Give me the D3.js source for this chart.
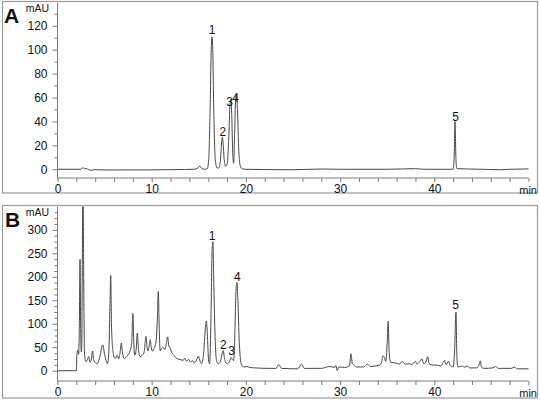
<!DOCTYPE html>
<html>
<head>
<meta charset="utf-8">
<script src="https://cdn.jsdelivr.net/npm/d3@7"></script>
<style>
  body { margin: 0; background: #fff; }
  svg text { font-family: "Liberation Sans", Arial, sans-serif; fill: #111; }
</style>
</head>
<body>
<div id="chart"></div>
<script>
// x axis (minutes)
var xTicks = [0, 10, 20, 30, 40];
var xMinor = [2, 4, 6, 8, 12, 14, 16, 18, 22, 24, 26, 28, 32, 34, 36, 38, 42, 44, 46, 48, 50];

// panel A: standards
var yTicksA = [0, 20, 40, 60, 80, 100, 120];
var yMinorA = [10, 30, 50, 70, 90, 110, 130];
var traceA = [
  [0, 0], [2.5, 0], [2.6, 0.8], [2.75, 1.2], [2.9, 0.3], [3.1, 0.6], [3.3, -0.3], [3.6, -0.8], [3.9, -0.3],
  [4.5, -0.5], [6, -0.6], [8, -0.5], [10, -0.5], [12, -0.3], [13.5, -0.2], [14.5, 0], [14.9, 1], [15.1, 2.8],
  [15.3, 0.8], [15.6, 0], [15.9, 0.5], [16.05, 8], [16.2, 50], [16.32, 100], [16.4, 110.8], [16.48, 100],
  [16.6, 45], [16.75, 8], [16.95, 1], [17.15, 1.5], [17.3, 8], [17.42, 22], [17.5, 26.7], [17.58, 22],
  [17.7, 8], [17.85, 2.5], [18.0, 4], [18.15, 20], [18.3, 52], [18.4, 58.5], [18.5, 45], [18.6, 14],
  [18.7, 5], [18.8, 30], [18.92, 60], [19.0, 62.9], [19.1, 50], [19.25, 15], [19.4, 3], [19.6, 0.5],
  [20, 0], [25, -0.4], [28, 0.2], [30, 0], [35, 0], [38, 0.5], [39, 0], [42, 0], [42.1, 8], [42.2, 39.8],
  [42.3, 8], [42.4, 0.5], [45, 0], [47, -0.4], [48, 0], [50, 0.3]
];
var peakNamesA = ["1", "2", "3", "4", "5"];
var peakLabelTimeA = [16.4, 17.54, 18.28, 18.9, 42.27];
var peakLabelValA = [116.4, 31.4, 56.5, 60.1, 43.9];

// panel B: sample
var yTicksB = [0, 50, 100, 150, 200, 250, 300];
var yMinorB = [12.5, 25, 37.5, 62.5, 75, 87.5, 112.5, 125, 137.5, 162.5, 175, 187.5, 212.5, 225, 237.5,
  262.5, 275, 287.5, 312.5, 325, 337.5];
var traceB = [
  [0, 0], [2.0, 0], [2.05, 30], [2.15, 44], [2.25, 35], [2.32, 100], [2.39, 237], [2.46, 90], [2.53, 40],
  [2.58, 60], [2.64, 250], [2.71, 420], [2.78, 200], [2.86, 40], [3.0, 19], [3.15, 22], [3.3, 30], [3.45, 18],
  [3.6, 25], [3.72, 42], [3.85, 22], [4.2, 15], [4.5, 30], [4.8, 55], [5.0, 35], [5.3, 15], [5.45, 40],
  [5.55, 120], [5.65, 203], [5.73, 100], [5.8, 62], [5.9, 40], [6.1, 26], [6.35, 33], [6.5, 25], [6.65, 40],
  [6.77, 59], [6.9, 38], [7.1, 26], [7.4, 32], [7.7, 42], [7.88, 60], [8.0, 122], [8.1, 60], [8.2, 33],
  [8.35, 45], [8.47, 80], [8.6, 45], [8.75, 30], [9.0, 33], [9.2, 40], [9.3, 60], [9.4, 73], [9.5, 50],
  [9.6, 42], [9.75, 55], [9.85, 66], [9.95, 50], [10.1, 42], [10.3, 50], [10.45, 60], [10.6, 110], [10.7, 169],
  [10.8, 90], [10.9, 42], [11.05, 48], [11.2, 50], [11.4, 45], [11.5, 52], [11.7, 72], [11.8, 55], [11.95, 48],
  [12.1, 40], [12.4, 32], [12.65, 26], [13.0, 24], [13.35, 22], [13.5, 27], [13.7, 20], [13.9, 24], [14.1, 18],
  [14.3, 22], [14.5, 17], [14.7, 20], [14.95, 31], [15.15, 20], [15.3, 15], [15.5, 35], [15.7, 90], [15.8, 106],
  [15.9, 80], [16.05, 20], [16.15, 15], [16.3, 120], [16.42, 260], [16.5, 275], [16.58, 200], [16.75, 60],
  [16.9, 20], [17.05, 15], [17.3, 20], [17.5, 38], [17.6, 43], [17.7, 30], [17.95, 15], [18.2, 18], [18.35, 25],
  [18.45, 28], [18.55, 24], [18.7, 22], [18.8, 60], [18.95, 170], [19.05, 188], [19.15, 150], [19.3, 60],
  [19.45, 20], [19.6, 10], [19.9, 8], [20.1, 9], [20.4, 7], [21, 6], [22.3, 5], [23.2, 5], [23.5, 13], [23.8, 5],
  [25.5, 4], [25.9, 14], [26.2, 5], [28, 5], [28.9, 9], [29.4, 7], [29.55, 11], [29.7, 0], [29.85, 8], [30.5, 7],
  [31.0, 10], [31.15, 36], [31.3, 15], [31.5, 12], [31.7, 8], [32.5, 8], [32.9, 14], [33.2, 9], [34.2, 12],
  [34.4, 18], [34.55, 32], [34.7, 28], [34.85, 20], [35.0, 60], [35.1, 105], [35.2, 45], [35.35, 18], [36, 16],
  [36.3, 14], [36.6, 20], [36.9, 14], [37.4, 15], [37.6, 13], [38.0, 20], [38.15, 14], [38.4, 18], [38.7, 25],
  [38.85, 15], [39.1, 18], [39.3, 30], [39.45, 15], [39.8, 12], [40.2, 12], [40.7, 10], [40.95, 18], [41.1, 22],
  [41.25, 13], [41.5, 20], [41.7, 11], [42.0, 8], [42.15, 40], [42.3, 125], [42.4, 30], [42.5, 8], [42.8, 9],
  [43.0, 10], [43.2, 7], [43.5, 10], [43.8, 6], [44.2, 6], [44.5, 6], [44.8, 15], [44.9, 21], [45.0, 8],
  [45.3, 5], [46.2, 6], [46.5, 9], [46.8, 5], [48.2, 5], [48.5, 8], [48.8, 4], [50, 4]
];
var peakNamesB = ["1", "2", "3", "4", "5"];
var peakLabelTimeB = [16.4, 17.6, 18.49, 19.09, 42.27];
var peakLabelValB = [288.3, 56, 41.8, 201, 139.5];

var axisColor = "#7a7a7a",
    traceColor = "#484848",
    boxColor = "#9a9a9a";

var svg = d3.select("#chart").append("svg")
    .attr("width", 540)
    .attr("height", 400);

function drawPanel(cfg) {
  var g = svg.append("g");

  var x = d3.scaleLinear().domain([0, 50]).range([57.5, 528.5]);
  var y = d3.scaleLinear().domain(cfg.yDomain).range([cfg.xAxisY, cfg.topY]);

  // panel frame
  g.append("rect")
    .attr("x", 2.5).attr("y", cfg.boxTop)
    .attr("width", 535).attr("height", cfg.boxHeight)
    .attr("fill", "none").attr("stroke", boxColor).attr("stroke-width", 1.2);

  // y axis
  var yAxis = d3.axisLeft(y).tickValues(cfg.yTicks).tickSize(5).tickPadding(5);
  var ya = g.append("g").attr("transform", "translate(57.5,0)").call(yAxis);
  var yMin = g.append("g").attr("transform", "translate(57.5,0)")
    .call(d3.axisLeft(y).tickValues(cfg.yMinor).tickSize(3).tickFormat(""));
  yMin.select(".domain").remove();

  // x axis
  var xAxis = d3.axisBottom(x).tickValues(xTicks).tickSize(4).tickPadding(2);
  var xa = g.append("g").attr("transform", "translate(0," + cfg.xAxisY + ")").call(xAxis);
  var xMin = g.append("g").attr("transform", "translate(0," + cfg.xAxisY + ")")
    .call(d3.axisBottom(x).tickValues(xMinor).tickSize(4).tickFormat(""));
  xMin.select(".domain").remove();

  [ya, yMin, xa, xMin].forEach(function(a) {
    a.select(".domain").attr("stroke", axisColor);
    a.selectAll(".tick line").attr("stroke", axisColor);
    a.selectAll(".tick text").attr("fill", "#111").style("font-size", "12px")
      .style("font-family", "'Liberation Sans', Arial, sans-serif");
  });
  ya.select(".domain").attr("d", "M0," + cfg.xAxisY + "V" + cfg.topY);
  xa.select(".domain").attr("d", "M" + x(0) + ",0H" + x(50));

  g.append("text")
    .attr("x", 537).attr("y", cfg.xAxisY + 15.5)
    .attr("text-anchor", "end")
    .style("font-size", "11px")
    .text("min");

  g.append("text")
    .attr("x", 49).attr("y", cfg.topY + 9)
    .attr("text-anchor", "end")
    .style("font-size", "10.5px")
    .text("mAU");

  g.append("text")
    .attr("x", cfg.letterX).attr("y", cfg.boxTop + 21)
    .style("font-size", "21px")
    .style("font-weight", "bold")
    .text(cfg.letter);

  // trace, clipped at the top of the y axis
  var clipId = "clip" + cfg.letter;
  svg.append("clipPath").attr("id", clipId)
    .append("rect")
    .attr("x", 57.5).attr("y", cfg.topY)
    .attr("width", 480).attr("height", cfg.xAxisY - cfg.topY);

  var line = d3.line()
    .x(function(d) { return x(d[0]); })
    .y(function(d) { return y(d[1]); })
    .curve(d3.curveMonotoneX);

  g.append("path")
    .datum(cfg.trace)
    .attr("clip-path", "url(#" + clipId + ")")
    .attr("fill", "none")
    .attr("stroke", traceColor)
    .attr("stroke-width", 1)
    .attr("stroke-linejoin", "round")
    .attr("d", line);

  g.selectAll(".peak")
    .data(cfg.names)
    .enter().append("text")
    .attr("class", "peak")
    .attr("x", function(d, i) { return x(cfg.labelT[i]); })
    .attr("y", function(d, i) { return y(cfg.labelV[i]); })
    .attr("dy", "0.35em")
    .attr("text-anchor", "middle")
    .style("font-size", "12px")
    .text(function(d) { return d; });
}

drawPanel({
  letter: "A", letterX: 4,
  boxTop: 1.5, boxHeight: 191.5,
  topY: 3, xAxisY: 178,
  yDomain: [-7.3, 139],
  yTicks: yTicksA, yMinor: yMinorA,
  trace: traceA,
  names: peakNamesA, labelT: peakLabelTimeA, labelV: peakLabelValA
});

drawPanel({
  letter: "B", letterX: 5,
  boxTop: 205.5, boxHeight: 192.5,
  topY: 206.5, xAxisY: 381,
  yDomain: [-21.9, 349.7],
  yTicks: yTicksB, yMinor: yMinorB,
  trace: traceB,
  names: peakNamesB, labelT: peakLabelTimeB, labelV: peakLabelValB
});
</script>
</body>
</html>
